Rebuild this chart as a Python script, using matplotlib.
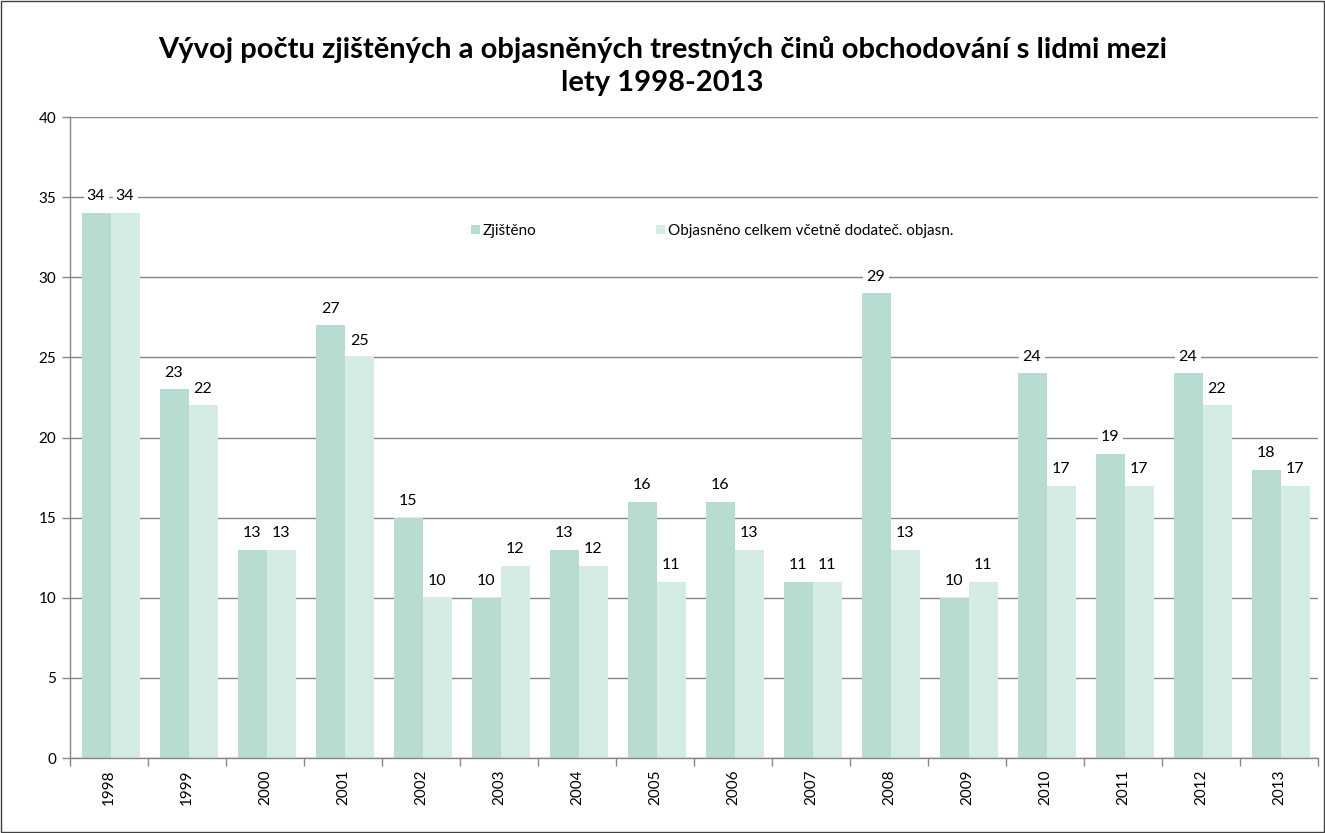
import numpy as np
import matplotlib
matplotlib.use("Agg")
from matplotlib import pyplot as plt
from matplotlib.patches import Rectangle

# data
years = ['1998', '1999', '2000', '2001', '2002', '2003', '2004', '2005',
         '2006', '2007', '2008', '2009', '2010', '2011', '2012', '2013']
zjisteno = [34, 23, 13, 27, 15, 10, 13, 16, 16, 11, 29, 10, 24, 19, 24, 18]
objasneno = [34, 22, 13, 25, 10, 12, 12, 11, 13, 11, 13, 11, 17, 17, 22, 17]

plt.rcParams['font.family'] = ['Lato', 'DejaVu Sans']

c_dark = '#b8dbd2'
c_light = '#d5ebe5'
grid_c = '#868686'

fig = plt.figure(figsize=(13.25, 8.33), dpi=100)
ax = fig.add_axes([0.0528, 0.090, 0.9419, 0.7695])

x = np.arange(len(years)) + 0.02
w = 0.372
b1 = ax.bar(x - w / 2, zjisteno, w, color=c_dark, label='Zjištěno', zorder=2)
b2 = ax.bar(x + w / 2, objasneno, w, color=c_light,
            label='Objasněno celkem včetně dodateč. objasn.', zorder=2)

for bars in (b1, b2):
    for r in bars:
        ax.annotate(str(int(r.get_height())),
                    (r.get_x() + r.get_width() / 2, r.get_height()),
                    xytext=(0, 7), textcoords='offset points',
                    ha='center', va='bottom', fontsize=11.5, zorder=4,
                    bbox=dict(boxstyle='square,pad=0.2', fc='white', ec='none'))

ax.set_xlim(-0.5, len(years) - 0.5)
ax.set_ylim(0, 40)
ax.set_yticks(range(0, 41, 5))
ax.yaxis.grid(True, color=grid_c, lw=1, zorder=0)
ax.set_axisbelow(True)

ax.set_xticks(np.arange(len(years)))
ax.set_xticklabels(years, rotation=90, fontsize=11)
ax.tick_params(axis='x', length=0, pad=8)
ax.set_xticks(np.arange(-0.5, len(years)), minor=True)
ax.tick_params(axis='x', which='minor', length=6, color=grid_c, width=1)
ax.tick_params(axis='y', length=6, color=grid_c, width=1, labelsize=11, pad=4)

for s in ('top', 'right'):
    ax.spines[s].set_visible(False)
for s in ('left', 'bottom'):
    ax.spines[s].set_color(grid_c)
    ax.spines[s].set_linewidth(1)

ax.legend(loc='lower left', bbox_to_anchor=(0.31, 0.79), ncol=2, frameon=False,
          handlelength=0.6, handleheight=0.6, handletextpad=0.2,
          columnspacing=7.8, fontsize=11)

fig.text(0.5, 0.921, 'Vývoj počtu zjištěných a objasněných trestných činů obchodování s lidmi mezi\nlety 1998-2013',
         ha='center', va='center', fontsize=21, fontweight='bold', linespacing=1.35)

fig.patches.append(Rectangle((0.0008, 0.0012), 0.9984, 0.9976, transform=fig.transFigure,
                             fill=False, ec='#404040', lw=1))

plt.savefig('out.png', dpi=100)
